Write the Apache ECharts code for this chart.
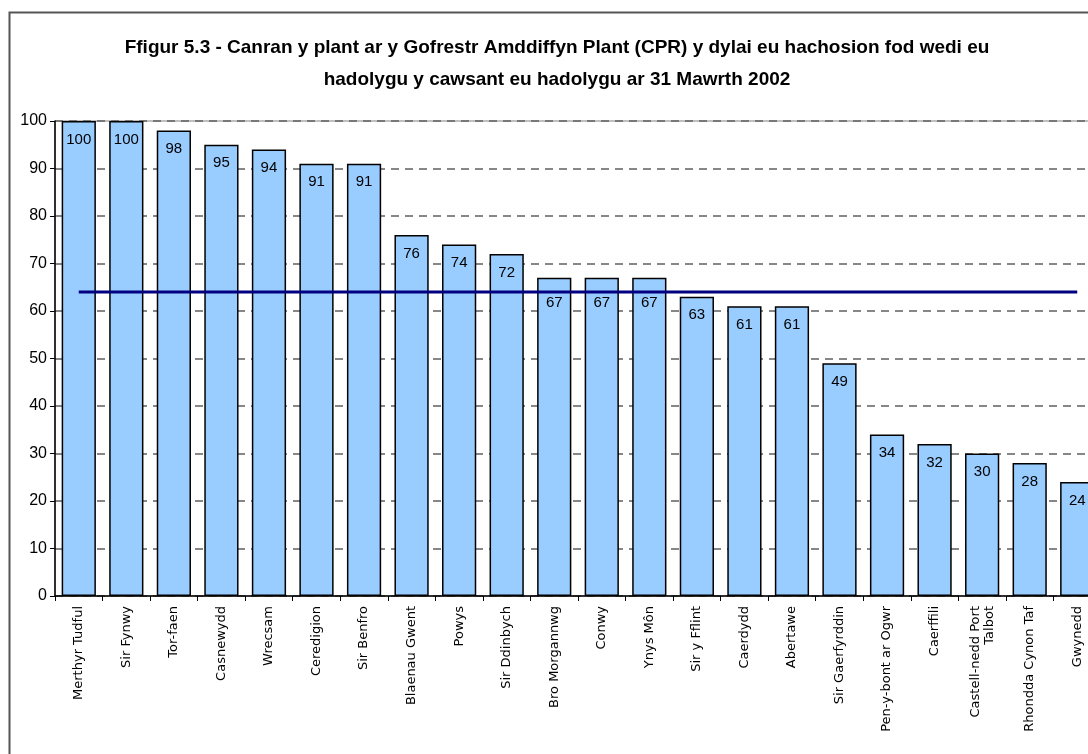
<!DOCTYPE html>
<html>
<head>
<meta charset="utf-8">
<script src="https://cdn.jsdelivr.net/npm/echarts@6/dist/echarts.min.js"></script>
<style>
  html, body { margin: 0; padding: 0; background: #fff; overflow: hidden; }
  /* the original chart runs past the right edge of the picture, so the canvas is wider than the window */
  #chart { width: 1114px; height: 754px; }
</style>
</head>
<body>
<div id="chart"></div>
<script>
// awdurdodau lleol, yn y drefn a ddangosir
const areas = [
    'Merthyr Tudful', 'Sir Fynwy', 'Tor-faen', 'Casnewydd', 'Wrecsam', 'Ceredigion',
    'Sir Benfro', 'Blaenau Gwent', 'Powys', 'Sir Ddinbych', 'Bro Morgannwg', 'Conwy',
    'Ynys Môn', 'Sir y Fflint', 'Caerdydd', 'Abertawe', 'Sir Gaerfyrddin',
    'Pen-y-bont ar Ogwr', 'Caerffili', 'Castell-nedd Port\nTalbot', 'Rhondda Cynon Taf', 'Gwynedd'
];
const percentReviewed = [100, 100, 98, 95, 94, 91, 91, 76, 74, 72, 67, 67, 67, 63, 61, 61, 49, 34, 32, 30, 28, 24];
const walesAverage = 64; // llinell gyfartalog
const yTicks = [0, 10, 20, 30, 40, 50, 60, 70, 80, 90, 100];

const chart = echarts.init(document.getElementById('chart'));

// labels that would sit on the average line get pushed below it
const barData = percentReviewed.map(v => {
    const clash = v > walesAverage && v - walesAverage < 5;
    return clash ? { value: v, label: { distance: 18 } } : v;
});

const option = {
    backgroundColor: '#ffffff',
    animation: false,
    title: {
        text: 'Ffigur 5.3 - Canran y plant ar y Gofrestr Amddiffyn Plant (CPR) y dylai eu hachosion fod wedi eu\nhadolygu y cawsant eu hadolygu ar 31 Mawrth 2002',
        left: 'center',
        top: 27,
        textStyle: {
            fontFamily: 'Liberation Sans, Arial, sans-serif',
            fontSize: 19,
            fontWeight: 'bold',
            color: '#000',
            lineHeight: 32
        }
    },
    graphic: [
        {
            type: 'rect',
            shape: { x: 9.5, y: 12.5, width: 1200, height: 760 },
            style: { fill: 'none', stroke: '#555', lineWidth: 2 },
            silent: true
        }
    ],
    grid: {
        left: 55,
        top: 121,
        bottom: 158,
        right: 13,
        show: true,
        borderColor: '#808080',
        borderWidth: 1
    },
    xAxis: {
        type: 'category',
        data: areas,
        axisLine: { lineStyle: { color: '#000', width: 1.5 } },
        axisTick: { show: true, length: 5, lineStyle: { color: '#000' } },
        axisLabel: {
            rotate: 90,
            interval: 0,
            color: '#000',
            fontFamily: 'DejaVu Sans, sans-serif',
            fontSize: 13,
            lineHeight: 14,
            margin: 10
        }
    },
    yAxis: {
        type: 'value',
        min: 0,
        max: 100,
        interval: 10,
        axisLine: { show: true, lineStyle: { color: '#000', width: 1.5 } },
        axisTick: { show: true, length: 5, inside: false, lineStyle: { color: '#000' } },
        axisLabel: {
            color: '#000',
            fontFamily: 'Liberation Sans, Arial, sans-serif',
            fontSize: 16,
            margin: 8,
            formatter: v => yTicks.includes(v) ? String(v) : ''
        },
        splitLine: { show: true, lineStyle: { color: '#606060', type: [8, 6], width: 1.5 } }
    },
    series: [
        {
            type: 'bar',
            data: barData,
            barCategoryGap: '28%',
            itemStyle: { color: '#99CCFF', borderColor: '#000', borderWidth: 1.5 },
            label: {
                show: true,
                position: 'insideTop',
                distance: 11,
                color: '#000',
                fontFamily: 'Liberation Sans, Arial, sans-serif',
                fontSize: 15
            },
            z: 2
        },
        {
            type: 'line',
            data: areas.map(() => walesAverage),
            symbol: 'none',
            lineStyle: { color: '#000080', width: 3 },
            z: 3
        }
    ]
};

chart.setOption(option);
</script>
</body>
</html>
